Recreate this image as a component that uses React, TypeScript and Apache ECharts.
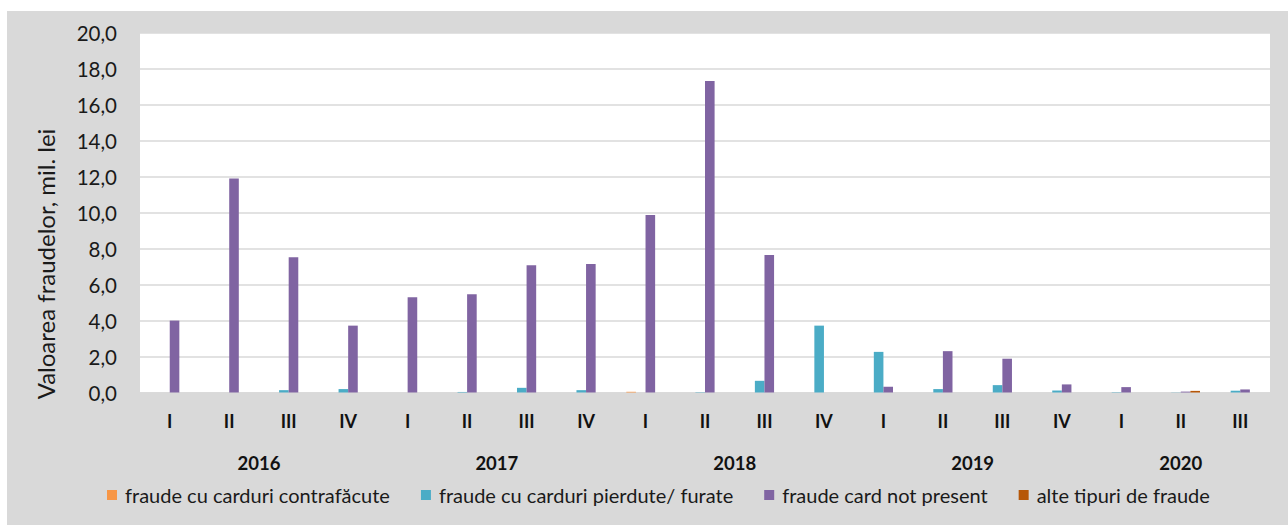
import React, { useEffect, useRef } from "react";
import * as echarts from "echarts";

const quarters = ["I", "II", "III", "IV", "I", "II", "III", "IV", "I", "II", "III", "IV", "I", "II", "III", "IV", "I", "II", "III"];
const years = ["2016", "2017", "2018", "2019", "2020"];
const yearSlots = [4, 12, 20, 28, 35];
const seriesNames = ["fraude cu carduri contrafăcute", "fraude cu carduri pierdute/ furate", "fraude card not present", "alte tipuri de fraude"];
const counterfeit = [0, 0, 0, 0, 0, 0, 0, 0, 0.04, 0, 0, 0, 0, 0, 0, 0, 0, 0, 0];
const lostStolen = [0, 0, 0.13, 0.19, 0, 0.03, 0.26, 0.13, 0, 0.02, 0.65, 3.72, 2.26, 0.19, 0.41, 0.11, 0.02, 0.01, 0.1];
const cardNotPresent = [4.0, 11.9, 7.52, 3.72, 5.3, 5.47, 7.08, 7.15, 9.87, 17.33, 7.65, 0, 0.32, 2.3, 1.88, 0.45, 0.3, 0.05, 0.17];
const otherTypes = [0, 0, 0, 0, 0, 0, 0, 0, 0, 0, 0, 0, 0, 0, 0, 0, 0, 0.09, 0];
const colors = ["#F79646", "#4BACC6", "#8064A2", "#B65708"];

const FONT = "Lato, 'Open Sans', sans-serif";

export default function App() {
  const ref = useRef<HTMLDivElement>(null);
  useEffect(() => {
    if (!ref.current) return;
    const chart = echarts.init(ref.current, undefined, { renderer: "svg" });
    const yearAxisData: string[] = [];
    for (let k = 0; k <= 38; k++) {
      const idx = yearSlots.indexOf(k);
      yearAxisData.push(idx >= 0 ? years[idx] : "");
    }
    const dataSets = [counterfeit, lostStolen, cardNotPresent, otherTypes];
    chart.setOption({
      animation: false,
      backgroundColor: "#ffffff",
      textStyle: { fontFamily: FONT },
      graphic: [
        { type: "rect", z: -10, silent: true, shape: { x: 7, y: 11, width: 1281, height: 514 }, style: { fill: "#d9d9d9" } },
        {
          type: "text",
          x: 45,
          y: 264,
          rotation: Math.PI / 2,
          style: { text: "Valoarea fraudelor, mil. lei", fontSize: 24, fontFamily: FONT, fill: "#1a1a1a", align: "center", verticalAlign: "middle" },
        },
      ],
      grid: { left: 140, right: 18, top: 33, bottom: 132.5, show: true, backgroundColor: "#ffffff", borderWidth: 0 },
      legend: {
        bottom: 15,
        left: 102,
        itemWidth: 10,
        itemHeight: 10,
        itemGap: 31,
        icon: "rect",
        textStyle: { fontSize: 20, color: "#1a1a1a", fontFamily: FONT, padding: [0, 0, 0, 3] },
        data: seriesNames,
      },
      xAxis: [
        {
          type: "category",
          data: quarters,
          axisLine: { show: true, lineStyle: { color: "#d9d9d9", width: 1.5 } },
          axisTick: { show: false },
          axisLabel: { interval: 0, margin: 19, fontSize: 18, fontWeight: "bold", color: "#111", fontFamily: FONT },
        },
        {
          type: "category",
          position: "bottom",
          offset: 42,
          boundaryGap: false,
          data: yearAxisData,
          axisLine: { show: false },
          axisTick: { show: false },
          splitLine: { show: false },
          axisLabel: { interval: 0, margin: 19, fontSize: 18.5, fontWeight: "bold", color: "#111", fontFamily: FONT },
        },
      ],
      yAxis: {
        type: "value",
        min: 0,
        max: 20,
        interval: 2,
        axisLine: { show: false },
        axisTick: { show: false },
        splitLine: { lineStyle: { color: "#d9d9d9", width: 1.5 } },
        axisLabel: {
          margin: 23,
          fontSize: 20.5,
          color: "#1a1a1a",
          fontFamily: FONT,
          formatter: (v: number) => v.toFixed(1).replace(".", ","),
        },
      },
      series: dataSets.map((d, i) => ({
        name: seriesNames[i],
        type: "bar",
        xAxisIndex: 0,
        data: d,
        barWidth: 9.6,
        barGap: "0%",
        itemStyle: { color: colors[i] },
      })),
    });
    return () => chart.dispose();
  }, []);
  return <div ref={ref} style={{ position: "absolute", left: 0, top: 0, width: 1288, height: 525 }} />;
}
